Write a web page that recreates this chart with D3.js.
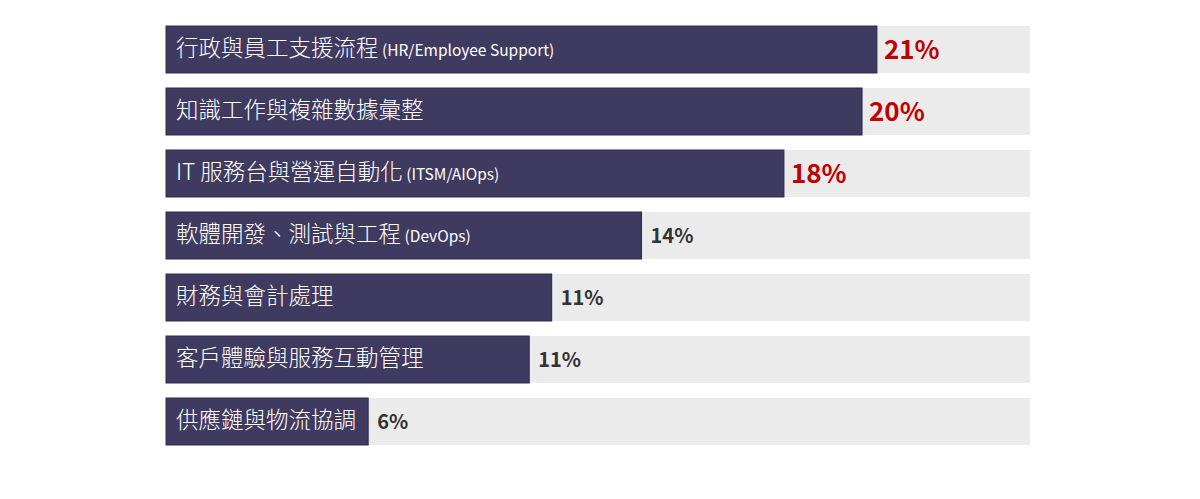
<!DOCTYPE html>
<html>
<head>
<meta charset="utf-8">
<script src="https://cdn.jsdelivr.net/npm/d3@7"></script>
<style>
  html, body { margin: 0; padding: 0; background: #fff; }
  svg { display: block; font-family: "Noto Sans CJK TC", "Noto Sans", sans-serif; }
</style>
</head>
<body>
<svg id="chart" width="1200" height="499"></svg>
<script>
// data
const categories = [
  "行政與員工支援流程",
  "知識工作與複雜數據彙整",
  "IT 服務台與營運自動化",
  "軟體開發、測試與工程",
  "財務與會計處理",
  "客戶體驗與服務互動管理",
  "供應鏈與物流協調"
];
const subLabels = ["(HR/Employee Support)", "", "(ITSM/AIOps)", "(DevOps)", "", "", ""];
const values = [20.57, 20.14, 17.88, 13.76, 11.16, 10.51, 5.85];
const valueLabels = ["21%", "20%", "18%", "14%", "11%", "11%", "6%"];
const maxValue = 25;

const svg = d3.select("#chart");

const x = d3.scaleLinear()
    .domain([0, maxValue])
    .range([166, 1030]);

const y = d3.scaleBand()
    .domain(categories)
    .range([26, 445])
    .paddingInner(0.242)
    .paddingOuter(0);

const rows = svg.selectAll("g.row")
    .data(categories)
    .enter()
    .append("g")
    .attr("class", "row");

// grey track
rows.append("rect")
    .attr("x", x(0))
    .attr("y", d => y(d))
    .attr("width", x(maxValue) - x(0))
    .attr("height", y.bandwidth())
    .attr("fill", "#ebebeb");

// bar
rows.append("rect")
    .attr("x", x(0))
    .attr("y", d => y(d))
    .attr("width", (d, i) => x(values[i]) - x(0))
    .attr("height", y.bandwidth())
    .attr("fill", "#3f3a60")
    .attr("stroke", "#2e2a50")
    .attr("stroke-width", 1);

// category label inside the bar
const lbl = rows.append("text")
    .attr("x", x(0) + 10)
    .attr("y", d => y(d) + y.bandwidth() / 2)
    .attr("dy", "0.38em")
    .attr("fill", "#ffffff");

lbl.append("tspan")
    .attr("font-size", 22.5)
    .attr("font-weight", 300)
    .text(d => d);

lbl.append("tspan")
    .attr("font-size", 15.5)
    .attr("font-weight", 400)
    .text((d, i) => subLabels[i] ? " " + subLabels[i] : "");

// value label
rows.append("text")
    .attr("x", (d, i) => x(values[i]) + (i < 3 ? 7 : 9))
    .attr("y", d => y(d) + y.bandwidth() / 2)
    .attr("dy", "0.37em")
    .attr("font-weight", "bold")
    .attr("font-size", (d, i) => i < 3 ? 26 : 20)
    .attr("fill", (d, i) => i < 3 ? "#c00000" : "#333333")
    .text((d, i) => valueLabels[i]);
</script>
</body>
</html>
